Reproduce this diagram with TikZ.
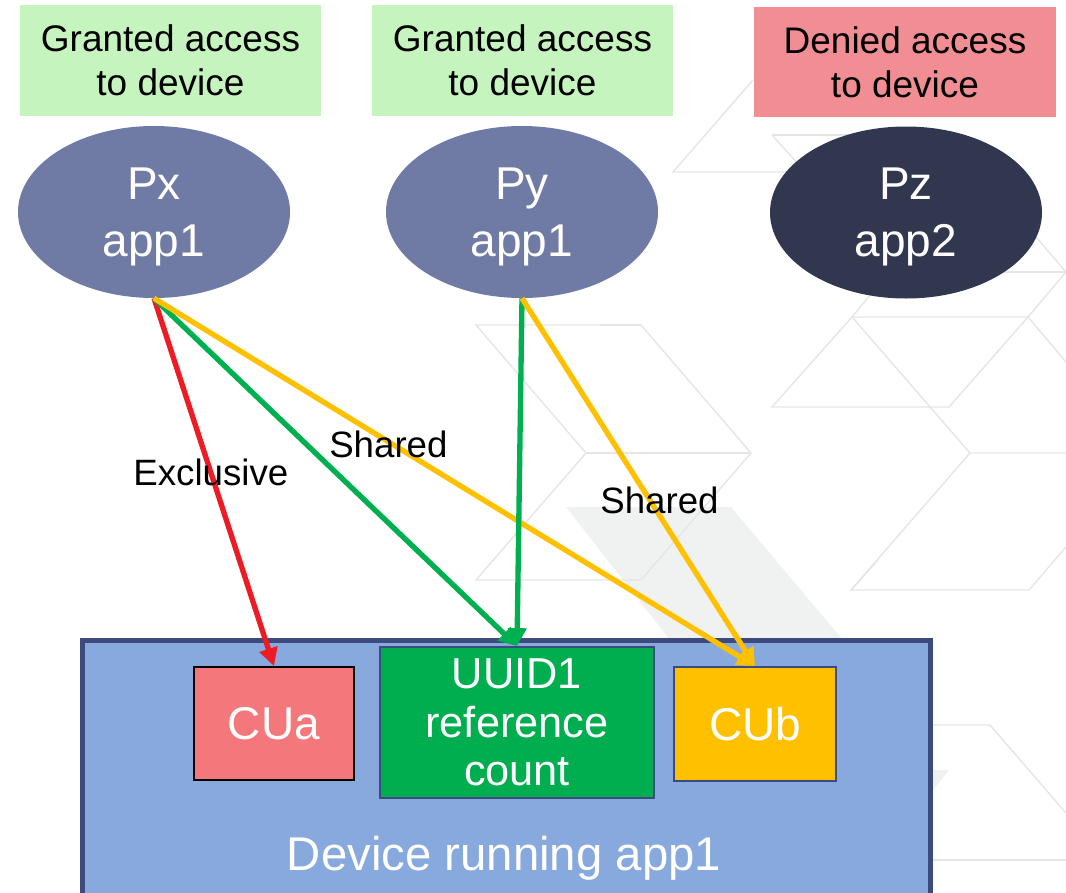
\documentclass[tikz,border=0pt]{standalone}
\usepackage{fontspec}
\setmainfont{Liberation Sans}
\usetikzlibrary{arrows.meta,shapes.geometric}

\definecolor{grantfill}{HTML}{C6F4BE}
\definecolor{denyfill}{HTML}{F08E93}
\definecolor{procfill}{HTML}{6F7BA5}
\definecolor{procdark}{HTML}{323750}
\definecolor{devfill}{HTML}{87A9DD}
\definecolor{devborder}{HTML}{3C4A7E}
\definecolor{cuafill}{HTML}{F4787B}
\definecolor{uuidfill}{HTML}{00AE50}
\definecolor{cubfill}{HTML}{FFC000}
\definecolor{linkred}{HTML}{ED1C24}
\definecolor{linkgreen}{HTML}{00B050}
\definecolor{linkyellow}{HTML}{FFC000}
\definecolor{patline}{HTML}{E6E6E6}
\definecolor{patfill}{HTML}{F0F1F1}

\begin{document}
\begin{tikzpicture}[x=0.75pt,y=-0.75pt,
  tagbox/.style={inner sep=0pt, align=center, minimum width=225.75pt,
    minimum height=83.25pt, font=\fontsize{27.75}{33}\selectfont},
  proc/.style={ellipse, inner sep=0pt, minimum width=204pt, minimum height=129pt},
  proctext/.style={inner sep=0pt, text=white, align=center,
    font=\fontsize{34.5}{42.75}\selectfont},
  unit/.style={draw=devborder, line width=1.3pt, inner sep=0pt, text=white,
    align=center, font=\fontsize{34.5}{36}\selectfont},
  link/.style={line width=4pt, -{Triangle[length=13.5pt,width=13.5pt]}},
  lbl/.style={inner sep=0pt, text=black, font=\fontsize{27.5}{32}\selectfont},
  bgline/.style={draw=patline, line width=1.1pt}]

\useasboundingbox (0,0) rectangle (1066,892);

% decorative background tiling
\fill[patfill] (566,507) -- (731,507) -- (843,640) -- (670,640) -- cycle;
\fill[patfill] (880,770) -- (949,770) -- (915,812) -- (880,812) -- cycle;
\draw[bgline] (476,325) -- (641,325) -- (751,453) -- (641,580) -- (476,580) -- (586,453) -- cycle;
\draw[bgline] (586,453) -- (751,453);
\draw[bgline] (600,325) -- (641,325);
\draw[bgline] (753,80) -- (673,172) -- (790,172);
\draw[bgline] (772,135) -- (860,135);
\draw[bgline] (772,135) -- (800,166);
\draw[bgline] (1000,195) -- (1066,272);
\draw[bgline] (1000,272) -- (1066,272);
\draw[bgline] (852,317) -- (1028,317) -- (949,407) -- (772,407) -- cycle;
\draw[bgline] (852,317) -- (880,283);
\draw[bgline] (1028,317) -- (1066,272);
\draw[bgline] (1028,317) -- (1066,362);
\draw[bgline] (852,317) -- (970,453) -- (1066,453);
\draw[bgline] (970,453) -- (851,590) -- (1029,590) -- (1066,547);
\draw[bgline] (851,590) -- (878,560);
\draw[bgline] (920,725) -- (990,725) -- (1066,813);
\draw[bgline] (920,860) -- (1066,860);

% access status tags
\node[tagbox, fill=grantfill] (tagx) at (170.5,60.5) {Granted access\\to device};
\node[tagbox, fill=grantfill] (tagy) at (522.5,60.5) {Granted access\\to device};
\node[tagbox, fill=denyfill, minimum width=226.5pt, minimum height=82.5pt]
  (tagz) at (905,62) {Denied access\\to device};

% processes
\node[proc, fill=procfill] (Px) at (154,212) {};
\node[proc, fill=procfill] (Py) at (522,212) {};
\node[proc, fill=procdark] (Pz) at (906,212.5) {};
\node[proctext] (Pxtext) at ([yshift=-3.5pt]Px.center) {Px\\app1};
\node[proctext] (Pytext) at ([yshift=-3.5pt]Py.center) {Py\\app1};
\node[proctext] (Pztext) at ([yshift=-3.5pt]Pz.center) {Pz\\app2};

% device and its compute units
\node[draw=devborder, fill=devfill, line width=3.75pt, inner sep=0pt,
  minimum width=636pt, minimum height=198.75pt, anchor=north west]
  (dev) at (80,638) {};
\node[text=white, inner sep=0pt, font=\fontsize{35.5}{40}\selectfont]
  (devlabel) at (504,858) {Device running app1};
\node[unit, draw=black, fill=cuafill, minimum width=120pt, minimum height=84.75pt]
  (CUa) at (274,723.5) {CUa};
\node[unit, fill=uuidfill, minimum width=205.5pt, minimum height=113.25pt,
  font=\fontsize{32.5}{36.5}\selectfont]
  (uuid) at (517,722.5) {UUID1\\reference\\count};
\node[unit, fill=cubfill, minimum width=121.5pt, minimum height=85.5pt]
  (CUb) at (755,724) {CUb};

% access links
\draw[link, draw=linkred] (Px.south) -- (CUa.north)
  node[lbl, pos=0.474] (lexcl) {Exclusive};
\draw[link, draw=linkgreen] (Px.south) -- (uuid.north);
\draw[link, draw=linkyellow] (Px.south) -- (CUb.north)
  node[lbl, pos=0.39, yshift=-2pt] (lsharedx) {Shared};
\draw[link, draw=linkgreen] (Py.south) -- (uuid.north);
\draw[link, draw=linkyellow] (Py.south) -- (CUb.north)
  node[lbl, pos=0.55, xshift=7pt] (lsharedy) {Shared};

\end{tikzpicture}
\end{document}
